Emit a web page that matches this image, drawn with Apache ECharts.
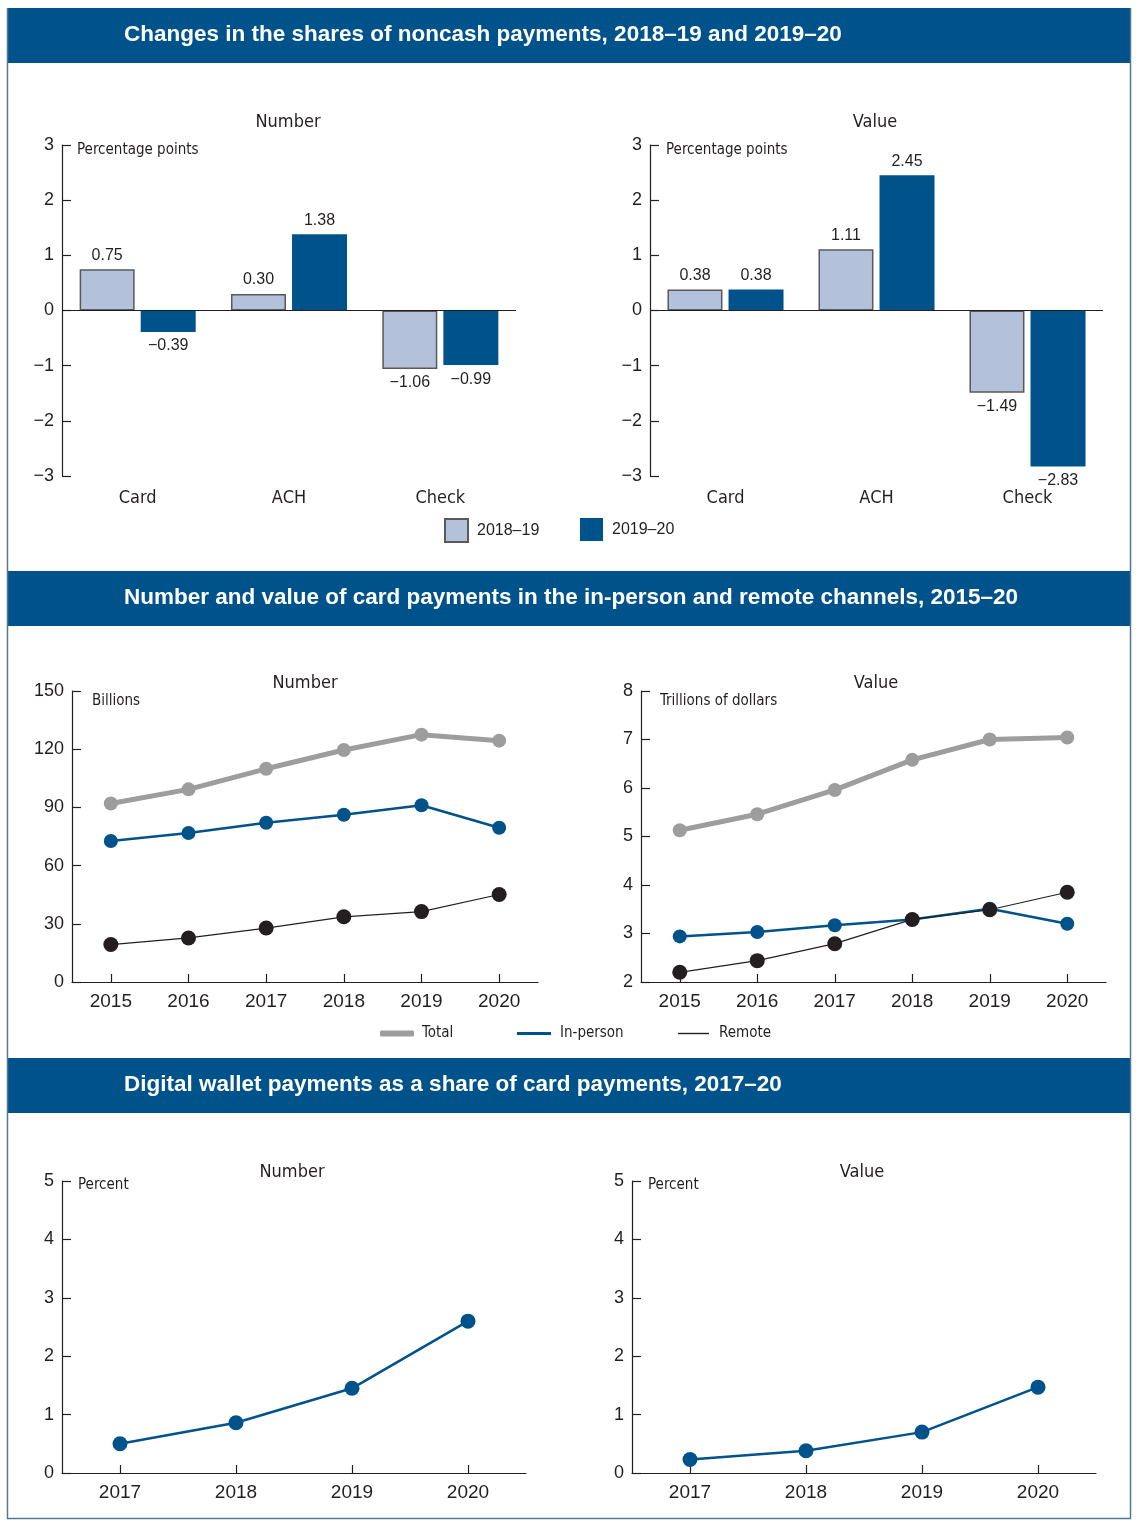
<!DOCTYPE html>
<html><head><meta charset="utf-8">
<script src="https://cdn.jsdelivr.net/npm/echarts@6/dist/echarts.min.js"></script>
<style>html,body{margin:0;padding:0;background:#fff}#c{width:1141px;height:1525px}</style>
</head><body><div id="c"></div>
<script>
// ---- Data ----
const barCategories = ['Card', 'ACH', 'Check'];
const numShare1819 = [0.75, 0.30, -1.06];
const numShare1920 = [-0.39, 1.38, -0.99];
const valShare1819 = [0.38, 1.11, -1.49];
const valShare1920 = [0.38, 2.45, -2.83];

const cardYears = ['2015', '2016', '2017', '2018', '2019', '2020'];
const numTotal    = [92.0, 99.3, 109.9, 119.6, 127.5, 124.4];
const numInPerson = [72.7, 76.8, 82.1, 86.2, 91.1, 79.5];
const numRemote   = [19.3, 22.7, 27.8, 33.6, 36.3, 45.1];
const valTotal    = [5.13, 5.46, 5.96, 6.58, 7.00, 7.04];
const valInPerson = [2.94, 3.03, 3.17, 3.29, 3.51, 3.20];
const valRemote   = [2.20, 2.44, 2.79, 3.29, 3.49, 3.85];

const walletYears = ['2017', '2018', '2019', '2020'];
const walletNum = [0.50, 0.86, 1.45, 2.60];
const walletVal = [0.23, 0.38, 0.70, 1.47];

const headers = [
  'Changes in the shares of noncash payments, 2018\u201319 and 2019\u201320',
  'Number and value of card payments in the in-person and remote channels, 2015\u201320',
  'Digital wallet payments as a share of card payments, 2017\u201320'
];

// ---- Styles ----
const INK = '#231f20', BLUE = '#00538a', GRAY = '#9d9d9d', LIGHT = '#b4c1da';
const NARROW = "'Liberation Sans Narrow','DejaVu Sans Condensed',sans-serif";
const REG = "'Liberation Sans',Arial,sans-serif";
const minus = v => String(v).replace('-', '\u2212');

function yAx(gridIndex, min, max, interval) {
  return {
    type: 'value', gridIndex, min, max, interval,
    axisLine: {show: true, lineStyle: {color: INK, width: 1.2}},
    axisTick: {show: true, inside: true, length: 9, lineStyle: {color: INK, width: 1.2}},
    splitLine: {show: false},
    axisLabel: {color: INK, fontSize: 18, fontFamily: REG, margin: 8, formatter: v => minus(v)}
  };
}
function xCat(gridIndex, data) {
  return {
    type: 'category', gridIndex, data,
    axisLine: {show: true, onZero: false, lineStyle: {color: INK, width: 1.2}},
    axisTick: {show: true, inside: true, alignWithLabel: true, length: 8, lineStyle: {color: INK, width: 1.2}},
    axisLabel: {color: INK, fontSize: 19, fontFamily: REG, margin: 10}
  };
}
function xBar(gridIndex) {
  return {
    type: 'category', gridIndex, data: barCategories,
    axisLine: {show: false, onZero: false}, axisTick: {show: false},
    axisLabel: {color: INK, fontSize: 18, fontFamily: NARROW, margin: 13}
  };
}
const barLabel = {
  show: true, position: 'outside', distance: 6, color: INK, fontSize: 16, fontFamily: REG,
  formatter: p => minus(p.value.toFixed(2))
};
function barPair(idx, a, b) {
  return [
    {type: 'bar', name: '2018\u201319', xAxisIndex: idx, yAxisIndex: idx, data: a, barWidth: 55,
     itemStyle: {color: LIGHT, borderColor: '#58595b', borderWidth: 1.5}, label: barLabel,
     markLine: {silent: true, symbol: 'none', label: {show: false}, animation: false,
       lineStyle: {color: INK, width: 1.2, type: 'solid'}, data: [{yAxis: 0}]}},
    {type: 'bar', name: '2019\u201320', xAxisIndex: idx, yAxisIndex: idx, data: b, barWidth: 55, barGap: '11%',
     itemStyle: {color: BLUE}, label: barLabel}
  ];
}
function lineS(name, idx, data, color, width, size) {
  return {type: 'line', name, xAxisIndex: idx, yAxisIndex: idx, data, symbol: 'circle', symbolSize: size,
    lineStyle: {color, width}, itemStyle: {color}, z: 3};
}

function txt(text, x, y, opts) {
  return Object.assign({type: 'text', x, y, silent: true,
    style: Object.assign({text, fill: INK, font: '18px ' + NARROW, textAlign: 'center', textVerticalAlign: 'middle'}, opts || {})});
}

const headerTops = [8, 571, 1058];
const graphics = [];
headerTops.forEach((t, i) => {
  graphics.push({type: 'rect', shape: {x: 7, y: t, width: 1123, height: 55}, style: {fill: '#00538a'}, silent: true});
  graphics.push(txt(headers[i], 124, t + 27, {fill: '#ffffff', font: 'bold 22.5px ' + REG, textAlign: 'left'}));
});
graphics.push({type: 'polyline', shape: {points: [[7.5, 8], [7.5, 1518.5], [1130.5, 1518.5], [1130.5, 8]]},
  style: {stroke: '#4f7898', lineWidth: 1.5, fill: null}, silent: true});

const UNIT = '15px ' + NARROW;
graphics.push(txt('Number', 288, 122));
graphics.push(txt('Value', 875, 122));
graphics.push(txt('Percentage points', 77, 150, {textAlign: 'left', font: UNIT}));
graphics.push(txt('Percentage points', 666, 150, {textAlign: 'left', font: UNIT}));
graphics.push(txt('Number', 305, 683));
graphics.push(txt('Value', 876, 683));
graphics.push(txt('Billions', 92, 701, {textAlign: 'left', font: UNIT}));
graphics.push(txt('Trillions of dollars', 660, 701, {textAlign: 'left', font: UNIT}));
graphics.push(txt('Number', 292, 1172));
graphics.push(txt('Value', 862, 1172));
graphics.push(txt('Percent', 78, 1185, {textAlign: 'left', font: UNIT}));
graphics.push(txt('Percent', 648, 1185, {textAlign: 'left', font: UNIT}));

const legBase = {padding: 0, selectedMode: false};
const option = {
  animation: false,
  backgroundColor: '#ffffff',
  graphic: graphics,
  grid: [
    {left: 62, top: 145, width: 454, height: 331},
    {left: 650, top: 145, width: 453, height: 331},
    {left: 72, top: 691, width: 466, height: 291},
    {left: 641, top: 691, width: 465, height: 291},
    {left: 62, top: 1181, width: 464, height: 292},
    {left: 632, top: 1181, width: 464, height: 292}
  ],
  xAxis: [xBar(0), xBar(1), xCat(2, cardYears), xCat(3, cardYears), xCat(4, walletYears), xCat(5, walletYears)],
  yAxis: [yAx(0, -3, 3, 1), yAx(1, -3, 3, 1), yAx(2, 0, 150, 30), yAx(3, 2, 8, 1), yAx(4, 0, 5, 1), yAx(5, 0, 5, 1)],
  legend: [
    Object.assign({left: 444, top: 518, itemWidth: 23, itemHeight: 23, icon: 'rect', data: ['2018\u201319'],
     textStyle: {color: INK, fontSize: 16, fontFamily: REG, padding: [0, 0, 0, 4]}}, legBase),
    Object.assign({left: 580, top: 518, itemWidth: 23, itemHeight: 23, icon: 'rect', data: ['2019\u201320'],
     textStyle: {color: INK, fontSize: 16, fontFamily: REG, padding: [0, 0, 0, 4]}}, legBase),
    Object.assign({left: 380, top: 1026, itemWidth: 34, itemHeight: 6, icon: 'roundRect', data: ['Total'],
     textStyle: {color: INK, fontSize: 15, fontFamily: NARROW, padding: [0, 0, 0, 3]}}, legBase),
    Object.assign({left: 517, top: 1026, itemWidth: 34, itemHeight: 3, icon: 'rect', data: ['In-person'],
     textStyle: {color: INK, fontSize: 15, fontFamily: NARROW, padding: [0, 0, 0, 4]}}, legBase),
    Object.assign({left: 678, top: 1026, itemWidth: 31, itemHeight: 1.4, icon: 'rect', data: ['Remote'],
     textStyle: {color: INK, fontSize: 15, fontFamily: NARROW, padding: [0, 0, 0, 5]}}, legBase)
  ],
  series: [
    ...barPair(0, numShare1819, numShare1920),
    ...barPair(1, valShare1819, valShare1920),
    lineS('Total', 2, numTotal, GRAY, 5, 14),
    lineS('In-person', 2, numInPerson, BLUE, 2.5, 14),
    lineS('Remote', 2, numRemote, INK, 1.2, 15),
    lineS('Total', 3, valTotal, GRAY, 5, 14),
    lineS('In-person', 3, valInPerson, BLUE, 2.5, 14),
    lineS('Remote', 3, valRemote, INK, 1.2, 15),
    lineS('Digital wallet (number)', 4, walletNum, BLUE, 2.5, 15),
    lineS('Digital wallet (value)', 5, walletVal, BLUE, 2.5, 15)
  ]
};
const chart = echarts.init(document.getElementById('c'));
chart.setOption(option);
</script>
</body></html>
